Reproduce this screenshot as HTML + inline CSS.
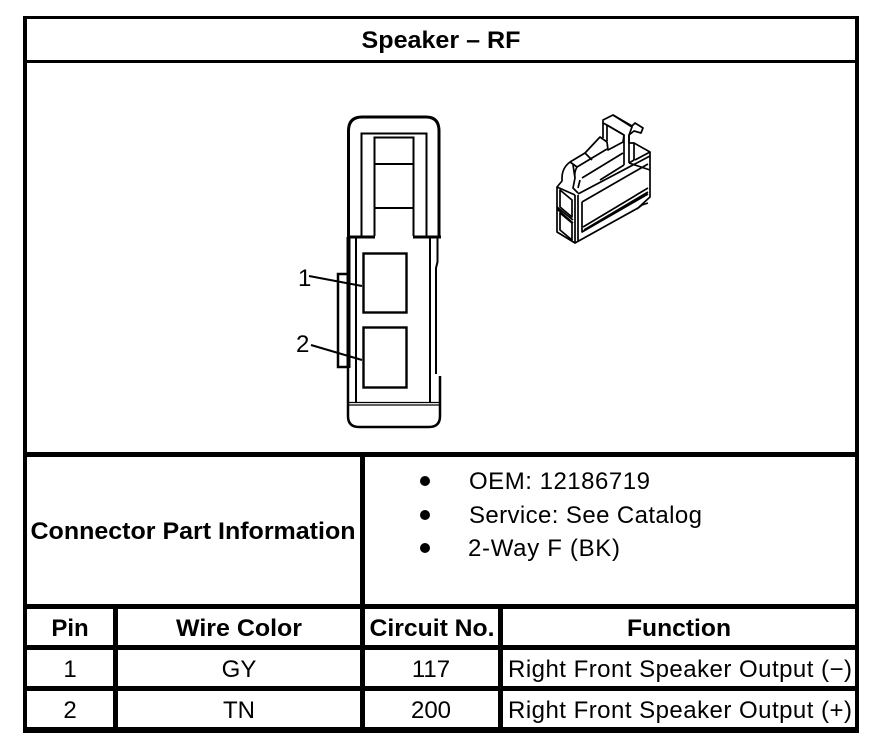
<!DOCTYPE html>
<html><head><meta charset="utf-8"><style>
html,body{margin:0;padding:0;background:#fff}
svg{display:block}
text{font-family:"Liberation Sans",sans-serif;fill:#000;font-size:24px}
.b{font-weight:bold}
</style></head><body>
<svg width="896" height="756" viewBox="0 0 896 756" xmlns="http://www.w3.org/2000/svg">
<rect width="896" height="756" fill="#fff"/>
<g fill="#000" shape-rendering="crispEdges">
<rect x="23" y="16" width="836" height="3"/>
<rect x="23" y="60" width="836" height="3"/>
<rect x="23" y="452" width="836" height="5"/>
<rect x="23" y="604" width="836" height="5"/>
<rect x="23" y="645" width="836" height="5"/>
<rect x="23" y="686" width="836" height="5"/>
<rect x="23" y="727" width="836" height="6"/>
<rect x="23" y="16" width="4" height="717"/>
<rect x="855" y="16" width="4" height="717"/>
<rect x="360" y="452" width="5" height="281"/>
<rect x="113" y="604" width="5" height="129"/>
<rect x="498" y="604" width="5" height="129"/>
</g>
<text x="441" y="48" text-anchor="middle" class="b" textLength="159" lengthAdjust="spacingAndGlyphs">Speaker – RF</text>
<text x="193" y="539" text-anchor="middle" class="b" textLength="325" lengthAdjust="spacingAndGlyphs">Connector Part Information</text>
<circle cx="425" cy="481" r="5"/><circle cx="425" cy="515" r="5"/><circle cx="425" cy="548" r="5"/>
<text x="469" y="489" textLength="181" lengthAdjust="spacing">OEM: 12186719</text>
<text x="469" y="523" textLength="233" lengthAdjust="spacing">Service: See Catalog</text>
<text x="468" y="556" textLength="152" lengthAdjust="spacing">2-Way F (BK)</text>
<text x="70" y="636" text-anchor="middle" class="b">Pin</text>
<text x="239" y="636" text-anchor="middle" class="b" textLength="126" lengthAdjust="spacingAndGlyphs">Wire Color</text>
<text x="432" y="636" text-anchor="middle" class="b" textLength="125" lengthAdjust="spacingAndGlyphs">Circuit No.</text>
<text x="679" y="636" text-anchor="middle" class="b" textLength="104" lengthAdjust="spacingAndGlyphs">Function</text>
<text x="70" y="677" text-anchor="middle">1</text>
<text x="239" y="677" text-anchor="middle">GY</text>
<text x="431" y="677" text-anchor="middle">117</text>
<text x="508" y="677" textLength="344" lengthAdjust="spacing">Right Front Speaker Output (−)</text>
<text x="70" y="718" text-anchor="middle">2</text>
<text x="239" y="718" text-anchor="middle">TN</text>
<text x="431" y="718" text-anchor="middle">200</text>
<text x="508" y="718" textLength="344" lengthAdjust="spacing">Right Front Speaker Output (+)</text>

<g fill="none" stroke="#000" stroke-width="2">
<path d="M348.500 236V131Q348.500 117 362 117H426Q439 117 439 131V236" stroke-width="3"/>
<path d="M361.500 236V133.500H426.500V236"/>
<path d="M374.500 236V137.500H413.500V236"/>
<path d="M375 164H413M375 208H413"/>
<path d="M347 237H375M413 237H441" stroke-width="3"/>
<path d="M348.500 237V368" stroke-width="4"/>
<path d="M356 238V403M430 238V403M437.500 238V262L436 268V374"/>
<path d="M348 368V416Q348 427 359 427H429Q440 427 440 416V376" stroke-width="2.500"/>
<path d="M349 402.500H439M349 405H439" stroke-width="1.300"/>
<rect x="363.500" y="253.500" width="43" height="59" stroke-width="2.400"/>
<rect x="363.500" y="327.500" width="43" height="60" stroke-width="2.400"/>
<path d="M347 274H338V367H347" stroke-width="2.500"/>
<path d="M309 276L362 286M311 345L362 360"/>
</g>
<text x="298" y="286" style="font-size:24px">1</text>
<text x="296" y="352" style="font-size:24px">2</text>

<g fill="none" stroke="#000" stroke-width="1.700" stroke-linejoin="round">
<path d="M557 187L562 181L562 178Q562 168 570 162L585 153L600 137L607 142L608 150L623 142L624 135L605 124L603 123V120L613 115L632 126L635 123L643 128L641 133L634 131L629 135V143L634 143L650 152V197L638 208L575 243L557 232Z"/>
<path d="M603 123V138M607 125V141M607 125L624 135M624 135V165M629 135V163M613 115L632 127L629 135"/>
<path d="M634 143V160L629 163M635 160L650 152"/>
<path d="M585 153L592 160M570 162L577 167L607 149M573 165L575 178L573 188L578 193M577 167Q574 172 575 178"/>
<path d="M582 178L623 153M580 180L578 188M600 180L624 165M629 163L650 170"/>
<path d="M578 194L650 156M575 195V243M578 195V241"/>
<path d="M557 187L575 195"/>
<path d="M557 207L573 220M557 209L573 223"/>
<path d="M560 190L572 200V217L560 207ZM560 213L572 223V240L560 230Z"/>
<path d="M582 202L648 164M582 202V232L648 194M583 227L648 188M584 230L648 192"/>
<path d="M637 209L642 205L648 203"/>
</g>
</svg>
</body></html>
